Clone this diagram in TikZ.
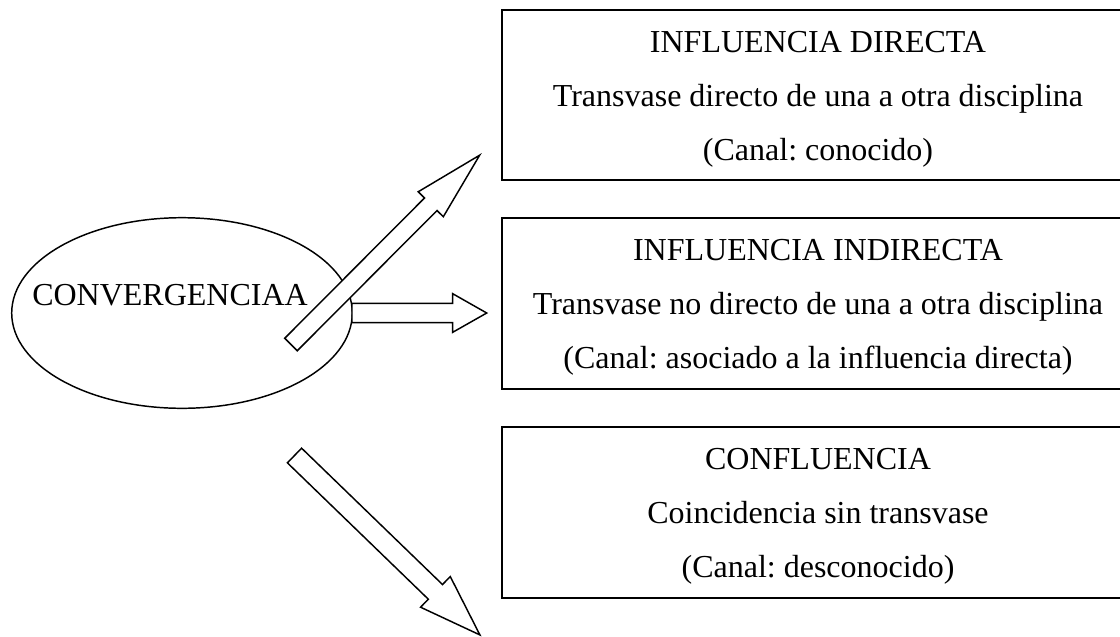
\documentclass[tikz,border=0pt]{standalone}
\usepackage{fontspec}
\setmainfont{Liberation Serif}
\frenchspacing
\tikzset{
  boxline/.style={draw=black, line width=1.9pt},
  thinline/.style={draw=black, line width=1.1pt},
  lbl/.style={anchor=base, inner sep=0pt, font=\fontsize{24}{28}\selectfont},
  pics/blockarr/.style args={#1/#2/#3/#4}{code={
    \draw[thinline, fill=white, line join=miter]
      (0,-#4) -- ({#1-#2},-#4) -- ({#1-#2},-#3) -- (#1,0)
      -- ({#1-#2},#3) -- ({#1-#2},#4) -- (0,#4) -- cycle;
  }}
}
\begin{document}
\begin{tikzpicture}[x=0.75pt,y=-0.75pt]
\clip (0,0) rectangle (1120,636);
\fill[white] (0,0) rectangle (1120,636);

% boxes
\draw[boxline] (502,10) rectangle (1133,180);
\draw[boxline] (502,218) rectangle (1133,389);
\draw[boxline] (502,427) rectangle (1133,598);

\node[lbl] (t1a) at (818,52) {INFLUENCIA DIRECTA};
\node[lbl] (t1b) at (818,106) {Transvase directo de una a otra disciplina};
\node[lbl] (t1c) at (818,160) {(Canal: conocido)};

\node[lbl] (t2a) at (818,260) {INFLUENCIA INDIRECTA};
\node[lbl] (t2b) at (818,314) {Transvase no directo de una a otra disciplina};
\node[lbl] (t2c) at (818,368) {(Canal: asociado a la influencia directa)};

\node[lbl] (t3a) at (818,469) {CONFLUENCIA};
\node[lbl] (t3b) at (818,523) {Coincidencia sin transvase};
\node[lbl] (t3c) at (818,577) {(Canal: desconocido)};

% ellipse
\draw[thinline] (182,313) ellipse [x radius=170.3, y radius=95.3];
\node[lbl, anchor=base west] (conv) at (32,305) {CONVERGENCIAA};

% block arrows
\pic (a2) [shift={(352,313)}] {blockarr={134.7/34/19.3/9.7}};
\pic (a1) [shift={(291,344.5)}, rotate=45.1] {blockarr={267.3/69.3/17.7/8.85}};
\pic (a3) [shift={(294.5,455.5)}, rotate=-44.06] {blockarr={258/61.9/21.35/10.2}};
\end{tikzpicture}
\end{document}
